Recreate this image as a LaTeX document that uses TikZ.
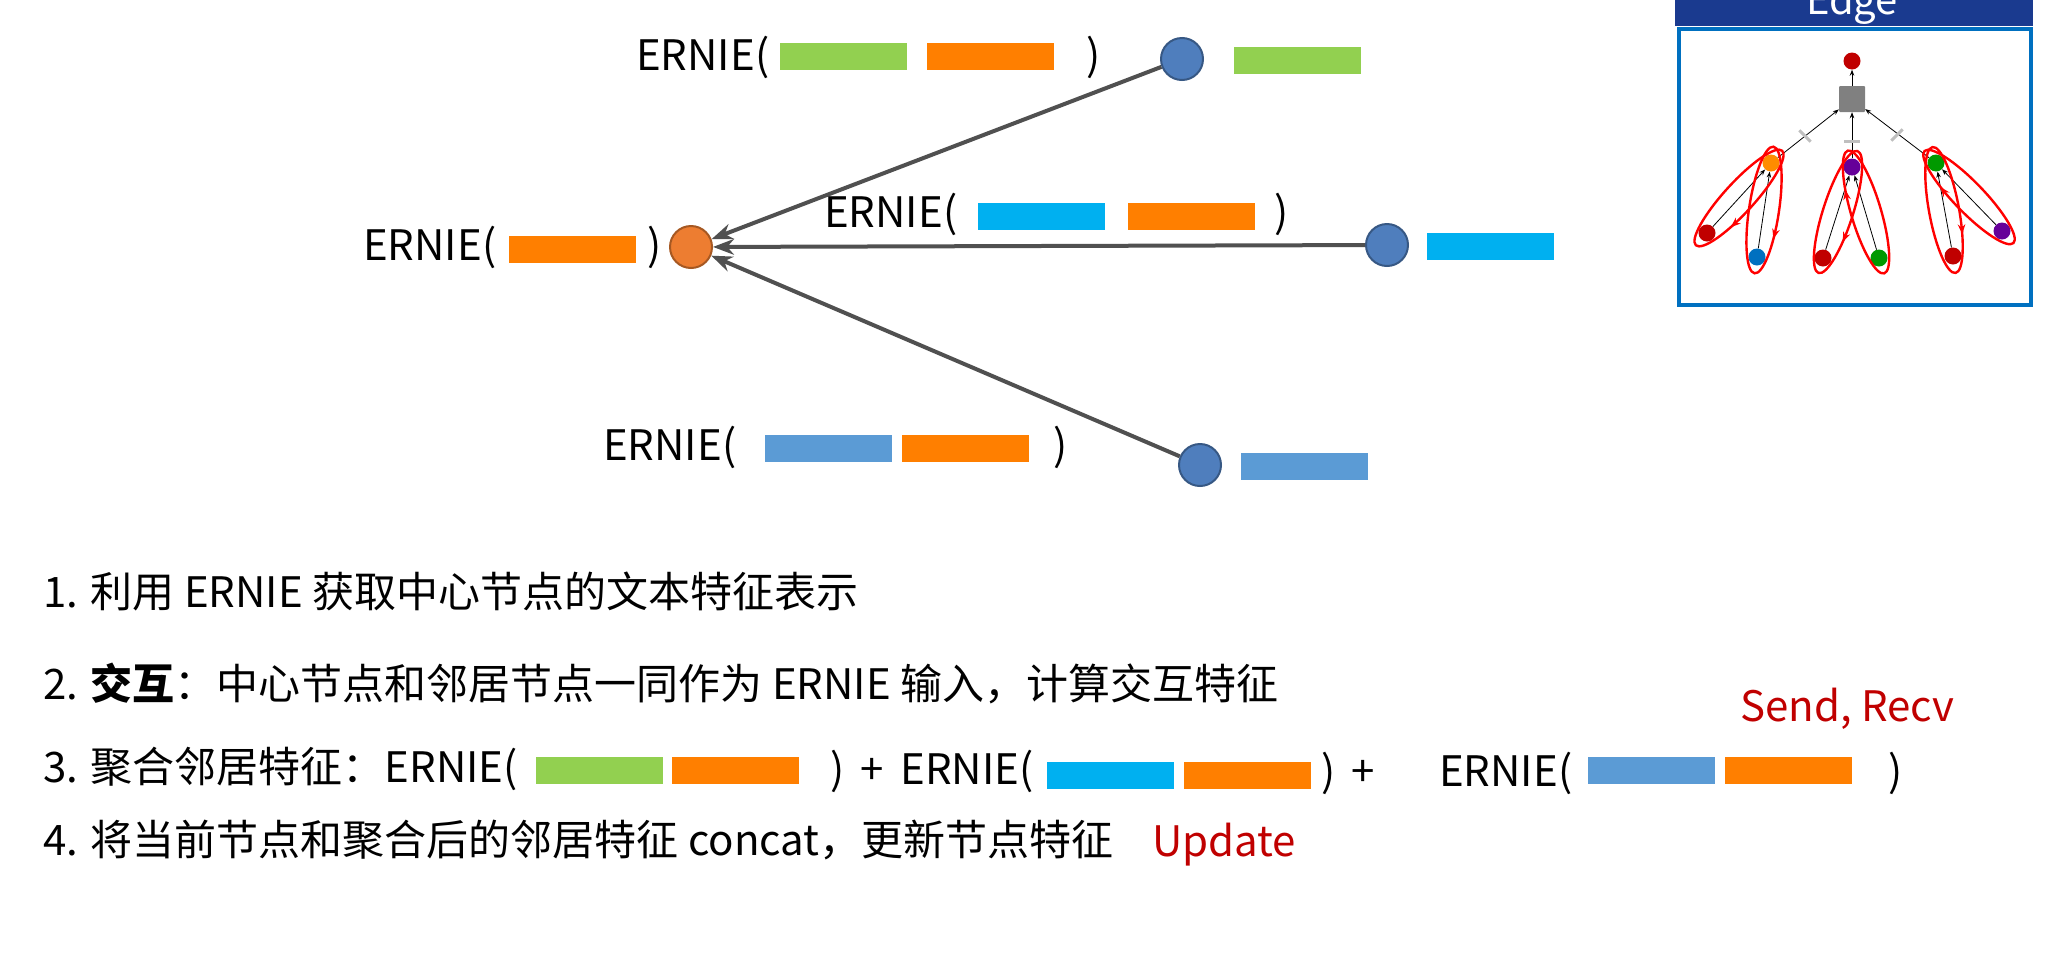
\documentclass[tikz,border=0pt]{standalone}
\usepackage{fontspec}
\setmainfont{Noto Sans CJK SC}
\usetikzlibrary{arrows.meta,decorations.markings,calc}

\definecolor{barGreen}{HTML}{92D050}
\definecolor{barOrange}{HTML}{FF7F00}
\definecolor{barCyan}{HTML}{00B0F0}
\definecolor{barBlue}{HTML}{5B9BD5}
\definecolor{nodeBlue}{HTML}{4F7EBD}
\definecolor{nodeOrange}{HTML}{ED7D31}
\definecolor{edgeGray}{HTML}{505050}
\definecolor{boxBlue}{HTML}{0070C0}
\definecolor{headBlue}{HTML}{1A3A8F}
\definecolor{sendRed}{HTML}{C00000}

\tikzset{
  txt/.style={font=\fontsize{42}{48}\selectfont, inner sep=0pt, anchor=west},
  bar/.style={minimum width=127pt, minimum height=27pt, inner sep=0pt},
  vtx/.style={circle, minimum size=42pt, inner sep=0pt, line width=2pt},
  dot/.style={circle, minimum size=17pt, inner sep=0pt, fill=#1},
  loop/.style={red, line width=2.4pt, postaction=decorate,
    decoration={markings, mark=at position 0.35 with {\arrow{Stealth[length=10pt]}}}}
}

\begin{document}
\begin{tikzpicture}[x=1pt,y=-1pt,>=Stealth]
  \useasboundingbox (0,0) rectangle (2064,962);

  % graph
  \node[vtx, fill=nodeOrange, draw=nodeOrange!70!black] (c)  at (691,247) {};
  \node[vtx, fill=nodeBlue, draw=nodeBlue!70!black]     (n1) at (1182,59) {};
  \node[vtx, fill=nodeBlue, draw=nodeBlue!70!black]     (n2) at (1387,245) {};
  \node[vtx, fill=nodeBlue, draw=nodeBlue!70!black]     (n3) at (1200,465) {};
  \node[bar, fill=barGreen] (f1) at (1297,60) {};
  \node[bar, fill=barCyan]  (f2) at (1490,246) {};
  \node[bar, fill=barBlue]  (f3) at (1304,466) {};

  \draw[->, edgeGray, line width=4pt] (n1) -- (c);
  \draw[->, edgeGray, line width=4pt] (n2) -- (c);
  \draw[->, edgeGray, line width=4pt] (n3) -- (c);

  % labels around the graph
  \node[txt] (l0) at (363,247) {ERNIE(};
  \node[bar, fill=barOrange] (l0o) at (572,249) {};
  \node[txt] (l0e) at (647,247) {)};

  \node[txt] (l1) at (636,57) {ERNIE(};
  \node[bar, fill=barGreen]  (l1g) at (843,56) {};
  \node[bar, fill=barOrange] (l1o) at (990,56) {};
  \node[txt] (l1e) at (1086,57) {)};

  \node[txt] (l2) at (824,214) {ERNIE(};
  \node[bar, fill=barCyan]   (l2c) at (1041,216) {};
  \node[bar, fill=barOrange] (l2o) at (1191,216) {};
  \node[txt] (l2e) at (1274,214) {)};

  \node[txt] (l3) at (603,447) {ERNIE(};
  \node[bar, fill=barBlue]   (l3b) at (828,448) {};
  \node[bar, fill=barOrange] (l3o) at (965,448) {};
  \node[txt] (l3e) at (1053,447) {)};

  % steps
  \node[txt] (s1) at (43,591) {1. 利用 ERNIE 获取中心节点的文本特征表示};
  \node[txt] (s2) at (43,683) {2. \textbf{交互}：中心节点和邻居节点一同作为 ERNIE 输入，计算交互特征};
  \node[txt] (s3) at (43,769) {3. 聚合邻居特征：ERNIE(};
  \node[bar, fill=barGreen]  (s3g) at (599,770) {};
  \node[bar, fill=barOrange] (s3o) at (735,770) {};
  \node[txt] (s3a) at (830,771) {)\, +\, ERNIE(};
  \node[bar, fill=barCyan]   (s3c) at (1110,775) {};
  \node[bar, fill=barOrange] (s3d) at (1247,775) {};
  \node[txt] (s3b) at (1321,773) {)\, +};
  \node[txt] (s3f) at (1439,773) {ERNIE(};
  \node[bar, fill=barBlue]   (s3h) at (1651,770) {};
  \node[bar, fill=barOrange] (s3i) at (1788,770) {};
  \node[txt] (s3j) at (1888,773) {)};
  \node[txt, text=sendRed] (send) at (1740,709) {Send, Recv};
  \node[txt] (s4) at (43,840) {4. 将当前节点和聚合后的邻居特征 concat，更新节点特征};
  \node[txt, text=sendRed] (upd) at (1152,845) {Update};

  % Edge panel
  \fill[headBlue] (1675,0) rectangle (2033,26);
  \node[font=\fontsize{40}{40}\selectfont, text=white, anchor=base] (edge) at (1852,14) {Edge};
  \draw[boxBlue, line width=4pt] (1679,29) rectangle (2031,305);

  \node[dot=sendRed] (root) at (1852,61) {};
  \node[fill=gray, minimum size=26pt, inner sep=0pt, rounded corners=1pt] (agg) at (1852,99) {};
  \node[dot=orange!90!yellow] (ya) at (1771,163) {};
  \node[dot=violet!80!blue] (pb) at (1852,167) {};
  \node[dot=green!60!black] (gc) at (1936,163) {};
  \node[dot=sendRed] (a1) at (1707,233) {};
  \node[dot=boxBlue] (a2) at (1757,257) {};
  \node[dot=sendRed] (b1) at (1823,258) {};
  \node[dot=green!60!black] (b2) at (1879,258) {};
  \node[dot=sendRed] (c1) at (1953,256) {};
  \node[dot=violet!80!blue] (c2) at (2002,231) {};

  \foreach \u/\v in {agg/root, ya/agg, pb/agg, gc/agg, a1/ya, a2/ya, b1/pb, b2/pb, c1/gc, c2/gc}
    \draw[->, line width=0.8pt, >={Stealth[length=6pt]}] (\u) -- (\v);
  \foreach \p/\r in {{1805,136}/-45, {1852,141}/0, {1897,135}/45}
    \draw[gray!50, line width=3pt, rotate around={\r:(\p)}] ($(\p)+(-8,0)$) -- ($(\p)+(8,0)$);

  \draw[loop] (1739,198) ellipse[x radius=64, y radius=15, rotate=47.6];
  \draw[loop] (1764,210) ellipse[x radius=64, y radius=15, rotate=81.5];
  \draw[loop] (1838,212) ellipse[x radius=64, y radius=15, rotate=72.3];
  \draw[loop] (1866,212) ellipse[x radius=64, y radius=15, rotate=-73.5];
  \draw[loop] (1944,210) ellipse[x radius=64, y radius=15, rotate=100.4];
  \draw[loop] (1969,197) ellipse[x radius=64, y radius=15, rotate=-46];
\end{tikzpicture}
\end{document}
